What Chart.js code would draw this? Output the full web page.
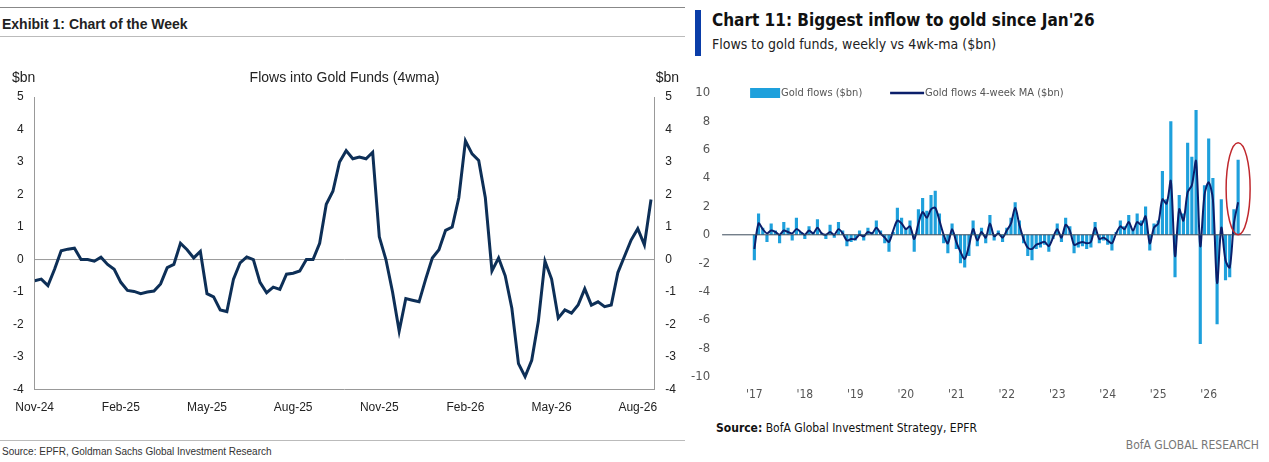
<!DOCTYPE html>
<html><head><meta charset="utf-8">
<script src="https://cdn.jsdelivr.net/npm/chart.js@4/dist/chart.umd.min.js"></script>
<style>
body{margin:0;width:1269px;height:462px;background:#fff;font-family:'Liberation Sans',Arial,sans-serif;position:relative;overflow:hidden}
.abs{position:absolute}
</style></head><body>
<div class="abs" style="left:0;top:7px;width:685px;border-top:1px solid #888"></div>
<div class="abs" style="left:2px;top:16px;font-size:14px;font-weight:bold;color:#222">Exhibit 1: Chart of the Week</div>
<div class="abs" style="left:0;top:36px;width:685px;border-top:1px solid #bbb"></div>
<div class="abs" style="left:0;top:440px;width:685px;border-top:1px solid #bbb"></div>
<div class="abs" style="left:2px;top:446px;font-size:10px;color:#333">Source: EPFR, Goldman Sachs Global Investment Research</div>
<div class="abs" style="left:0;top:60px;width:685px;height:358px"><canvas id="left"></canvas></div>

<div class="abs" style="left:695px;top:10px;width:6px;height:46px;background:#0a3da8"></div>
<div class="abs" style="left:712px;top:10px;font-size:17px;font-weight:bold;color:#111;font-family:'DejaVu Sans Condensed','Liberation Sans Narrow',sans-serif">Chart 11: Biggest inflow to gold since Jan'26</div>
<div class="abs" style="left:712px;top:36px;font-size:14px;color:#222;font-family:'DejaVu Sans Condensed','Liberation Sans Narrow',sans-serif">Flows to gold funds, weekly vs 4wk-ma ($bn)</div>
<div class="abs" style="left:687px;top:70px;width:596px;height:335px"><canvas id="right"></canvas></div>
<div class="abs" style="left:716px;top:421px;font-size:12px;color:#111;font-family:'DejaVu Sans Condensed',sans-serif"><b>Source:</b> BofA Global Investment Strategy, EPFR</div>
<div class="abs" style="right:10px;top:438px;font-size:12px;color:#777;font-family:'DejaVu Sans Condensed',sans-serif">BofA GLOBAL RESEARCH</div>

<script>
// ---- left: Flows into Gold Funds (4wma), weekly
const leftTicks = ['Nov-24', 'Feb-25', 'May-25', 'Aug-25', 'Nov-25', 'Feb-26', 'May-26', 'Aug-26'];
const leftFlows4wma = [
  -0.65, -0.6, -0.8, -0.3, 0.27, 0.32, 0.35, 0.0, 0.0, -0.05, 0.07, -0.15, -0.3,
  -0.7, -0.95, -0.98, -1.05, -1.0, -0.97, -0.75, -0.25, -0.15, 0.5, 0.3, 0.05, 0.25,
  -1.05, -1.15, -1.55, -1.6, -0.6, -0.1, 0.08, 0.0, -0.7, -1.02, -0.85, -0.92, -0.45,
  -0.42, -0.35, 0.0, 0.0, 0.5, 1.7, 2.1, 3.0, 3.35, 3.1, 3.15, 3.1, 3.3,
  0.7, 0.0, -1.0, -2.2, -1.2, -1.25, -1.3, -0.6, 0.05, 0.3, 0.9, 1.0, 1.9,
  3.65, 3.25, 3.05, 1.9, -0.35, 0.05, -0.5, -1.5, -3.2, -3.6, -3.1, -1.9, -0.05,
  -0.6, -1.8, -1.55, -1.65, -1.4, -0.9, -1.4, -1.3, -1.45, -1.4, -0.4, 0.1, 0.6,
  0.95, 0.45, 1.85
];

// ---- right: monthly gold flows and 4-week MA, Jan-17 .. Aug-26
const rightTicks = ["'17", "'18", "'19", "'20", "'21", "'22", "'23", "'24", "'25", "'26"];
const goldFlows = [
  -1.8, 1.5, 0.5, -0.5, 0.8, 0.3, -0.6, 0.9, 0.5, -0.4, 1.2, 0.2,
  -0.3, 0.6, 0.2, 1.1, 0.1, -0.3, 0.7, -0.2, 0.9, 0.3, -0.8, -0.5,
  -0.4, 0.3, -0.4, 0.5, 0.2, 1.0, 0.3, -0.6, -1.2, 0.2, 1.9, 1.2,
  0.5, 1.0, -1.2, 1.8, 2.6, 1.7, 2.8, 3.1, 1.5, -0.6, -1.3, 0.8,
  -1.0, -2.0, -2.3, -1.5, 1.0, -0.8, 0.5, -0.6, 1.4, -0.4, 0.3, -0.5,
  0.5, 1.2, 2.3, 1.0, -0.6, -1.5, -1.8, -1.0, -0.9, -0.7, -1.2, -0.3,
  0.8, -0.5, 1.2, 0.6, -1.3, -0.9, -0.8, -1.0, -0.9, 0.9, -0.6, -0.4,
  -0.7, -1.1, 0.2, 1.0, 0.6, 1.4, 0.4, 1.5, 1.0, 2.0, -1.1, 0.8,
  1.0, 4.5, 2.5, 8.0, -3.0, 2.8, 1.5, 6.5, 5.5, 8.8, -7.7, 3.5,
  6.8, 4.0, -6.3, 2.5, -3.2, -3.0, 1.8, 5.3
];
const goldFlowsMA = [
  -1.0, 0.8, 0.4, 0.1, 0.3, 0.2, 0.0, 0.3, 0.2, 0.1, 0.4, 0.2,
  0.0, 0.3, 0.1, 0.5, 0.1, 0.0, 0.2, 0.0, 0.4, 0.1, -0.4, -0.3,
  -0.3, 0.0, -0.1, 0.2, 0.1, 0.5, 0.1, -0.2, -0.5, 0.3, 1.0, 0.8,
  0.4, 0.6, -0.3, 0.8, 1.6, 1.2, 1.8, 1.9, 1.0, 0.0, -0.6, 0.4,
  -0.5, -1.2, -1.7, -0.8, 0.4, -0.4, 0.2, -0.2, 0.8, -0.1, 0.1, -0.2,
  0.3, 0.8, 1.9, 0.7, -0.3, -0.9, -1.0, -0.7, -0.6, -0.5, -0.8, -0.2,
  0.4, -0.2, 0.7, 0.3, -0.7, -0.6, -0.5, -0.6, -0.5, 0.5, -0.3, -0.2,
  -0.4, -0.6, 0.1, 0.6, 0.4, 0.9, 0.3, 0.9, 0.7, 1.3, -0.6, 0.5,
  0.8, 2.5, 2.2, 3.8, -1.5, 1.8, 1.0, 3.0, 3.5, 5.2, -0.8, 2.8,
  3.7, 2.5, -3.4, 0.5, -1.8, -2.3, 0.8, 2.3
];

const navy = '#0d2f57';
const axisFont = { family: "'Liberation Sans', Arial, sans-serif", size: 12 };

// zero line and side unit labels
const leftDecor = {
  id: 'leftDecor',
  beforeDatasetsDraw(chart) {
    const { ctx, chartArea: a, scales: { y } } = chart;
    const y0 = y.getPixelForValue(0);
    ctx.save();
    ctx.strokeStyle = '#999';
    ctx.lineWidth = 1;
    ctx.beginPath(); ctx.moveTo(a.left, y0); ctx.lineTo(a.right, y0); ctx.stroke();
    ctx.restore();
  },
  afterDraw(chart) {
    const { ctx, chartArea: a } = chart;
    ctx.save();
    ctx.fillStyle = '#222';
    ctx.font = "14px 'Liberation Sans', Arial";
    ctx.textBaseline = 'middle';
    ctx.textAlign = 'left'; ctx.fillText('$bn', 12, 18);
    ctx.textAlign = 'right'; ctx.fillText('$bn', chart.width - 6, 18);
    ctx.textAlign = 'center'; ctx.fillText('Flows into Gold Funds (4wma)', (a.left + a.right) / 2, 18);
    ctx.restore();
  }
};

new Chart(document.getElementById('left'), {
  type: 'line',
  data: {
    datasets: [{
      data: leftFlows4wma.map((v, i) => ({ x: i, y: v })),
      borderColor: navy,
      borderWidth: 3,
      pointRadius: 0,
      tension: 0,
    }],
  },
  options: {
    responsive: true,
    maintainAspectRatio: false,
    animation: false,
    layout: { padding: { top: 37, left: 10, right: 6, bottom: 0 } },
    plugins: { legend: { display: false }, tooltip: { enabled: false } },
    scales: {
      x: {
        type: 'linear', min: 0, max: 93.5,
        grid: { display: false, drawTicks: true },
        border: { color: '#999' },
        ticks: {
          color: '#222', font: axisFont, maxRotation: 0, autoSkip: false,
          callback: (v) => (v % 13 === 0 ? leftTicks[v / 13] : ''),
        },
        afterBuildTicks: (s) => { s.ticks = leftTicks.map((_, i) => ({ value: i * 13 })); },
      },
      y: {
        min: -4, max: 5,
        grid: { display: false },
        border: { color: '#999' },
        ticks: { stepSize: 1, color: '#222', font: axisFont },
      },
      y2: {
        position: 'right', min: -4, max: 5,
        grid: { display: false },
        border: { color: '#999' },
        ticks: { stepSize: 1, color: '#222', font: axisFont },
      },
    },
  },
  plugins: [leftDecor],
});

const thinFont = { family: "'DejaVu Sans Condensed', 'Liberation Sans Narrow', sans-serif", size: 12 };

// zero line, legend and red ring round the latest week
const rightDecor = {
  id: 'rightDecor',
  afterDatasetsDraw(chart) {
    const { ctx, chartArea: a, scales: { x, y } } = chart;
    const y0 = y.getPixelForValue(0);
    ctx.save();
    ctx.strokeStyle = '#3a4a5a';
    ctx.lineWidth = 1;
    ctx.beginPath(); ctx.moveTo(a.left, y0); ctx.lineTo(x.getPixelForValue(118), y0); ctx.stroke();
    const last = goldFlows.length - 1;
    const cx = x.getPixelForValue(last);
    const top = y.getPixelForValue(goldFlows[last] + 1.2);
    ctx.strokeStyle = '#c0282d';
    ctx.lineWidth = 1.5;
    ctx.beginPath();
    ctx.ellipse(cx, (top + y0) / 2, 12, (y0 - top) / 2, 0, 0, Math.PI * 2);
    ctx.stroke();
    // legend
    const ly = y.getPixelForValue(10);
    ctx.fillStyle = '#1ea0dc';
    ctx.fillRect(a.left + 28, ly - 5, 30, 10);
    ctx.strokeStyle = '#0b1f6b';
    ctx.lineWidth = 2.5;
    ctx.beginPath(); ctx.moveTo(a.left + 168, ly); ctx.lineTo(a.left + 202, ly); ctx.stroke();
    ctx.fillStyle = '#555';
    ctx.font = "11px 'DejaVu Sans Condensed', sans-serif";
    ctx.textBaseline = 'middle';
    ctx.fillText('Gold flows ($bn)', a.left + 59, ly);
    ctx.fillText('Gold flows 4-week MA ($bn)', a.left + 203, ly);
    ctx.restore();
  }
};

new Chart(document.getElementById('right'), {
  data: {
    datasets: [
      {
        type: 'line',
        label: 'Gold flows 4-week MA ($bn)',
        data: goldFlowsMA.map((v, i) => ({ x: i, y: v })),
        borderColor: '#0b1f6b',
        borderWidth: 2,
        pointRadius: 0,
        tension: 0.3,
      },
      {
        type: 'bar',
        label: 'Gold flows ($bn)',
        data: goldFlows.map((v, i) => ({ x: i, y: v })),
        backgroundColor: '#1ea0dc',
        barPercentage: 0.75,
        categoryPercentage: 1,
      },
    ],
  },
  options: {
    responsive: true,
    maintainAspectRatio: false,
    animation: false,
    layout: { padding: { top: 23, right: 0 } },
    plugins: { legend: { display: false }, tooltip: { enabled: false } },
    scales: {
      x: {
        type: 'linear', min: -1, max: 119,
        grid: { display: false },
        border: { display: false },
        ticks: {
          color: '#555', font: thinFont, maxRotation: 0, autoSkip: false,
          callback: (v) => (v >= 0 && v % 12 === 0 ? rightTicks[v / 12] : ''),
        },
        afterBuildTicks: (s) => { s.ticks = rightTicks.map((_, i) => ({ value: i * 12 })); },
      },
      y: {
        min: -10, max: 10,
        grid: { display: false },
        border: { display: false },
        ticks: { stepSize: 2, color: '#555', font: { ...thinFont, size: 13 }, padding: 4 },
      },
    },
  },
  plugins: [rightDecor],
});
</script>
</body></html>
